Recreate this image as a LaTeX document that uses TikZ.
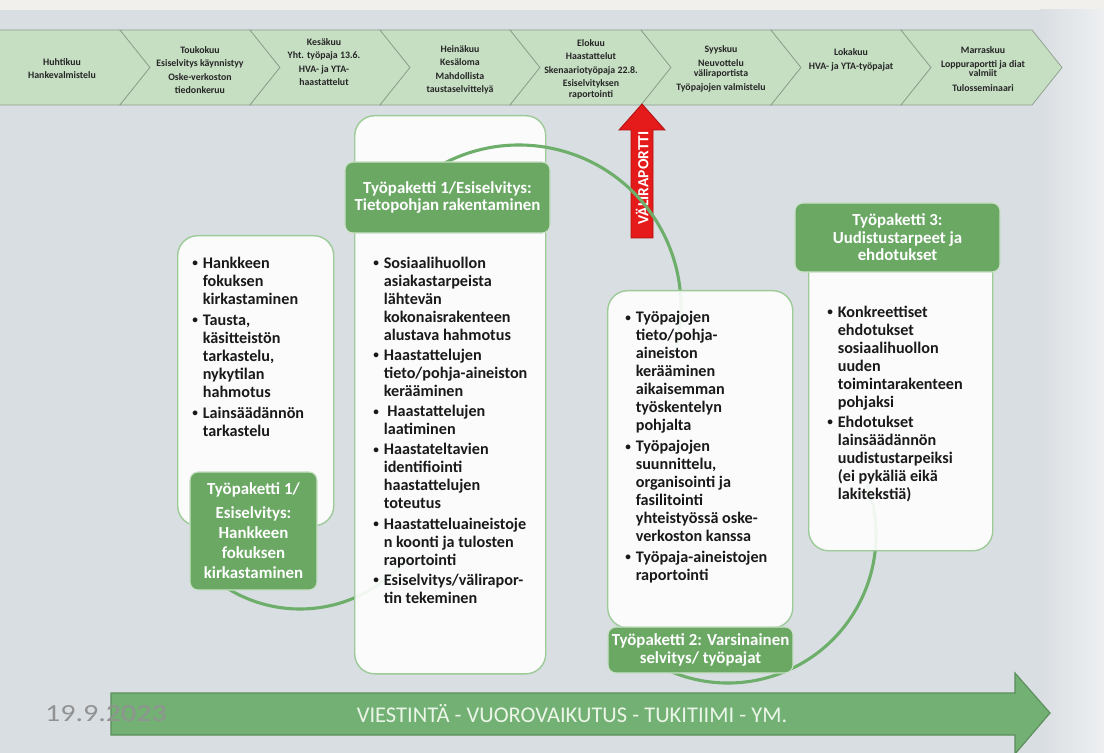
\documentclass[tikz,border=0pt]{standalone}
\usepackage{fontspec}
\setmainfont{Carlito}
\usetikzlibrary{calc}

\definecolor{bgGray}{HTML}{D9DEE2}
\definecolor{topStrip}{HTML}{F1F0EC}
\definecolor{chevFill}{HTML}{C6DFC3}
\definecolor{chevLine}{HTML}{8C9C8A}
\definecolor{wpGreen}{HTML}{6AA864}
\definecolor{cardLine}{HTML}{9CCB98}
\definecolor{loopGreen}{HTML}{6DAE6A}
\definecolor{flowGreen}{HTML}{72B074}
\definecolor{flowLine}{HTML}{5C8E5C}
\definecolor{flowText}{HTML}{ECF6E8}
\definecolor{repRed}{HTML}{E51A1A}
\definecolor{repLine}{HTML}{B01010}
\definecolor{dateGray}{HTML}{929292}

\newcommand{\bl}{\makebox[7.5pt][l]{\fontsize{8}{8}\selectfont\raisebox{1pt}{•}}}
\newcommand{\ind}{\hspace*{7.5pt}}

\begin{document}
\begin{tikzpicture}[x=0.025cm, y=-0.025cm,
	chev/.style={fill=chevFill, draw=chevLine, line width=0.5pt},
	chevtext/.style={font=\fontsize{7}{9.6}\selectfont\bfseries, align=center, text=black!85},
	loop/.style={draw=loopGreen, line width=2.2pt},
	card/.style={draw=cardLine, line width=1pt, fill=white, fill opacity=0.9, text opacity=1,
		rounded corners=0.5cm, anchor=north west, inner sep=0pt},
	wplabel/.style={fill=wpGreen, draw=white!65!wpGreen, line width=0.8pt, rounded corners=0.2cm,
		text=white, align=center, inner sep=2pt},
	listtext/.style={anchor=north west, inner sep=0pt, align=left, text=black!90,
		font=\fontsize{11.5}{12.8}\selectfont\bfseries}]
	
	% --- 1. BACKGROUND ---
	\fill[bgGray] (0,0) rectangle (1104,753);
	\fill[topStrip] (0,0) rectangle (1104,10);
	\shade[left color=bgGray, right color=white!55!bgGray] (1040,10) rectangle (1104,753);
	\useasboundingbox (0,0) rectangle (1104,753);
	
	% --- 2. TIMELINE (chevrons) ---
	\draw[chev] (-2,30) -- (120,30) -- (150,67.5) -- (120,105) -- (-2,105) -- cycle;
	\foreach \xl/\xr in {120/250, 250/380, 380/510, 510/641, 641/771, 771/901, 901/1032}
		\draw[chev] (\xl,30) -- (\xr,30) -- (\xr+30,67.5) -- (\xr,105) -- (\xl,105) -- (\xl+30,67.5) -- cycle;
	
	\node[chevtext] (m1) at (62,68.5) {Huhtikuu\\Hankevalmistelu};
	\node[chevtext] (m2) at (200,70) {Toukokuu\\Esiselvitys käynnistyy\\Oske-verkoston\\tiedonkeruu};
	\node[chevtext] (m3) at (324,62) {Kesäkuu\\Yht. työpaja 13.6.\\HVA- ja YTA-\\haastattelut};
	\node[chevtext] (m4) at (460,70) {Heinäkuu\\Kesäloma\\Mahdollista\\taustaselvittelyä};
	\node[chevtext] (m5) at (591,69) {Elokuu\\Haastattelut\\Skenaariotyöpaja 22.8.\\Esiselvityksen\\[-2pt]raportointi};
	\node[chevtext] (m6) at (721,69) {Syyskuu\\Neuvottelu\\[-2pt]väliraportista\\Työpajojen valmistelu};
	\node[chevtext] (m7) at (851,60) {Lokakuu\\HVA- ja YTA-työpajat};
	\node[chevtext] (m8) at (983,69) {Marraskuu\\Loppuraportti ja diat\\[-3pt]valmiit\\[1pt]Tulosseminaari};
	
	% --- 3. VALIRAPORTTI ARROW ---
	\draw[fill=repRed, draw=repLine, line width=0.6pt] (631,238) -- (631,130) -- (619,130) -- (642,104)
		-- (665,130) -- (653,130) -- (653,238) -- cycle;
	\node[rotate=90, text=white, font=\fontsize{11}{12}\selectfont\bfseries] (vali) at (642,178) {VÄLIRAPORTTI};
	
	% --- 4. LOOP + WORK PACKAGES ---
	% loop from WP1 (left) into WP1 (middle)
	\coordinate (a1) at ($(300,471)+(125:138)$);
	\draw[loop] (a1) arc[start angle=125, end angle=40, radius=138];
	
	\node[card, minimum width=3.9cm, minimum height=7.25cm] (box1a) at (177,235) {};
	\node[listtext] (t1a) at (192,256.5) {\bl Hankkeen\\\ind fokuksen\\\ind kirkastaminen\\[2.2pt]
		\bl Tausta,\\\ind käsitteistön\\\ind tarkastelu,\\\ind nykytilan\\\ind hahmotus\\[2.2pt]
		\bl Lainsäädännön\\\ind tarkastelu};
	\node[wplabel, minimum width=3.175cm, minimum height=2.95cm, font=\fontsize{12}{14.2}\selectfont\bfseries]
		(wp1a) at (253.5,531) {Työpaketti 1/\\[2.8pt]Esiselvitys:\\Hankkeen\\fokuksen\\kirkastaminen};
	
	\node[card, minimum width=4.775cm, minimum height=13.95cm] (box1b) at (354,115) {};
	\node[listtext] (t1b) at (373,256.5) {\bl Sosiaalihuollon\\\ind asiakastarpeista\\\ind lähtevän\\\ind kokonaisrakenteen\\\ind alustava hahmotus\\[1.6pt]
		\bl Haastattelujen\\\ind tieto/pohja-aineiston\\\ind kerääminen\\[1.6pt]
		\bl\ Haastattelujen\\\ind laatiminen\\[1.6pt]
		\bl Haastateltavien\\\ind identifiointi\\\ind haastattelujen\\\ind toteutus\\[1.6pt]
		\bl Haastatteluaineistoje\\\ind n koonti ja tulosten\\\ind raportointi\\[1.6pt]
		\bl Esiselvitys/välirapor-\\\ind tin tekeminen};
	
	% loop over the top, from WP1 (middle) into WP2
	\coordinate (b1) at ($(519,307)+(-125:162)$);
	\draw[loop] (b1) arc[start angle=-125, end angle=15, radius=162];
	
	\node[wplabel, minimum width=5.125cm, minimum height=1.775cm, font=\fontsize{12}{12.3}\selectfont\bfseries]
		(wp1b) at (447.5,197.5) {Työpaketti 1/Esiselvitys:\\Tietopohjan rakentaminen};
	
	\node[card, minimum width=4.625cm, minimum height=8.425cm] (box2) at (607,290) {};
	\node[listtext] (t2) at (625,311) {\bl Työpajojen\\\ind tieto/pohja-\\\ind aineiston\\\ind kerääminen\\\ind aikaisemman\\\ind työskentelyn\\\ind pohjalta\\[2pt]
		\bl Työpajojen\\\ind suunnittelu,\\\ind organisointi ja\\\ind fasilitointi\\\ind yhteistyössä oske-\\\ind verkoston kanssa\\[2pt]
		\bl Työpaja-aineistojen\\\ind raportointi};
	
	% loop under WP2, up into WP3
	\coordinate (c1) at ($(728,535)+(120:148)$);
	\draw[loop] (c1) arc[start angle=120, end angle=-20, radius=148];
	
	\node[wplabel, minimum width=4.625cm, minimum height=1.15cm, font=\fontsize{12}{12.8}\selectfont\bfseries]
		(wp2) at (700.5,650) {Työpaketti 2: Varsinainen\\selvitys/ työpajat};
	
	\node[card, minimum width=4.6cm, minimum height=7.875cm] (box3) at (808,235) {};
	\node[listtext] (t3) at (827,305.5) {\bl Konkreettiset\\\ind ehdotukset\\\ind sosiaalihuollon\\\ind uuden\\\ind toimintarakenteen\\\ind pohjaksi\\[1.5pt]
		\bl Ehdotukset\\\ind lainsäädännön\\\ind uudistustarpeiksi\\\ind (ei pykäliä eikä\\\ind lakitekstiä)};
	\node[wplabel, minimum width=5.125cm, minimum height=1.725cm, font=\fontsize{12}{12.4}\selectfont\bfseries]
		(wp3) at (897.5,237.5) {Työpaketti 3:\\Uudistustarpeet ja\\ehdotukset};
	
	% --- 5. BOTTOM ARROW ---
	\draw[fill=flowGreen, draw=flowLine, line width=0.8pt] (111,693) -- (1015,693) -- (1015,673) -- (1050,713)
		-- (1015,754) -- (1015,735) -- (111,735) -- cycle;
	\node[font=\fontsize{16}{17}\selectfont, text=flowText] (flow) at (572,714) {VIESTINTÄ - VUOROVAIKUTUS - TUKITIIMI - YM.};
	\node[font=\fontsize{17.5}{18}\selectfont, text=dateGray, xscale=1.22] (date) at (106,714) {19.9.2023};
	
\end{tikzpicture}
\end{document}
